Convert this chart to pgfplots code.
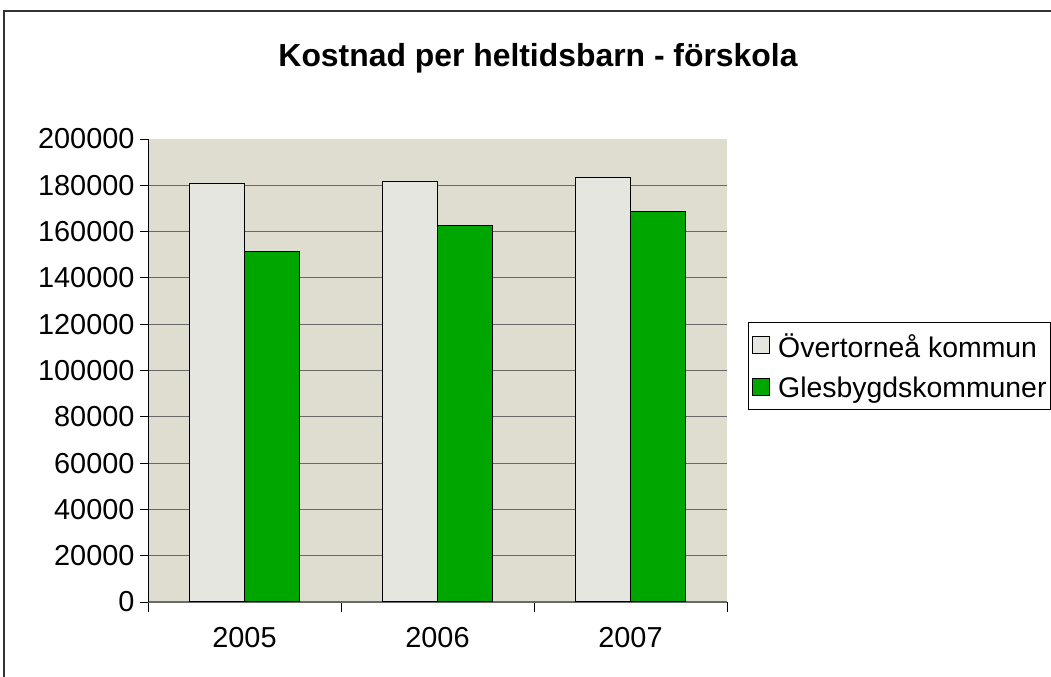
\documentclass[border=0pt]{standalone}
\usepackage{pgfplots}
\pgfplotsset{compat=1.18}
\usepackage{fontspec}
\setmainfont{Liberation Sans}
\definecolor{plotbg}{RGB}{223,220,208}
\definecolor{lightbar}{RGB}{230,230,224}
\definecolor{greenbar}{RGB}{0,166,0}
\definecolor{gridc}{RGB}{105,105,105}
\begin{document}
\begin{tikzpicture}
\path[use as bounding box, clip] (0,0) rectangle (1051bp,677bp);
\fill[white] (0,0) rectangle (1051bp,677bp);
\draw[line width=1.2bp, black!80] (4bp,-10bp) -- (4bp,666bp) -- (1100bp,666bp);
\node[font=\fontsize{32}{37}\selectfont\bfseries] at (538bp,619bp) {Kostnad per heltidsbarn - förskola};
\begin{axis}[
  at={(148bp,75bp)}, anchor=south west,
  scale only axis, width=579bp, height=463bp,
  ybar=0pt, bar width=55bp,
  xmin=-0.5, xmax=2.5, ymin=0, ymax=200000,
  xtick={0,1,2}, xticklabels={2005,2006,2007},
  minor xtick={-0.5,0.5,1.5,2.5},
  major x tick style={draw=none},
  minor x tick style={black, line width=0.8bp},
  minor tick length=10bp,
  ytick={0,20000,40000,60000,80000,100000,120000,140000,160000,180000},
  extra y ticks={200000},
  extra y tick style={ymajorgrids=false},
  y tick style={black, line width=0.8bp},
  major tick length=8bp,
  tick align=outside,
  ymajorgrids, grid style={gridc, line width=1.1bp},
  axis background/.style={fill=plotbg},
  axis x line*=bottom, axis y line*=left,
  x axis line style={gridc, line width=1.2bp, -},
  y axis line style={black, line width=1bp, -},
  tick label style={font=\fontsize{29}{34}\selectfont},
  scaled y ticks=false,
  yticklabel={\pgfmathprintnumber[fixed, precision=0, 1000 sep={}, assume math mode=true]{\tick}},
  yticklabel style={xshift=-2bp},
  xticklabel style={yshift=-14bp},
  legend style={at={(1.036,0.605)}, anchor=north west, draw=black, line width=0.8bp,
    font=\fontsize{28.5}{34}\selectfont, row sep=14bp, inner xsep=2bp, inner ysep=9bp,
    legend cell align=left},
  legend image code/.code={\draw[#1, draw=black, line width=0.9bp] (2bp,-8bp) rectangle (19bp,9bp); \path[draw=none, fill=none] (0bp,0bp) -- (26bp,0bp);},
]
\addplot[fill=lightbar, draw=black, line width=1.2bp] coordinates {(0,180900) (1,181700) (2,183400)};
\addplot[fill=greenbar, draw=black, line width=1.2bp] coordinates {(0,151500) (1,162700) (2,168800)};
\legend{Övertorneå kommun, Glesbygdskommuner}
\end{axis}
\end{tikzpicture}
\end{document}
